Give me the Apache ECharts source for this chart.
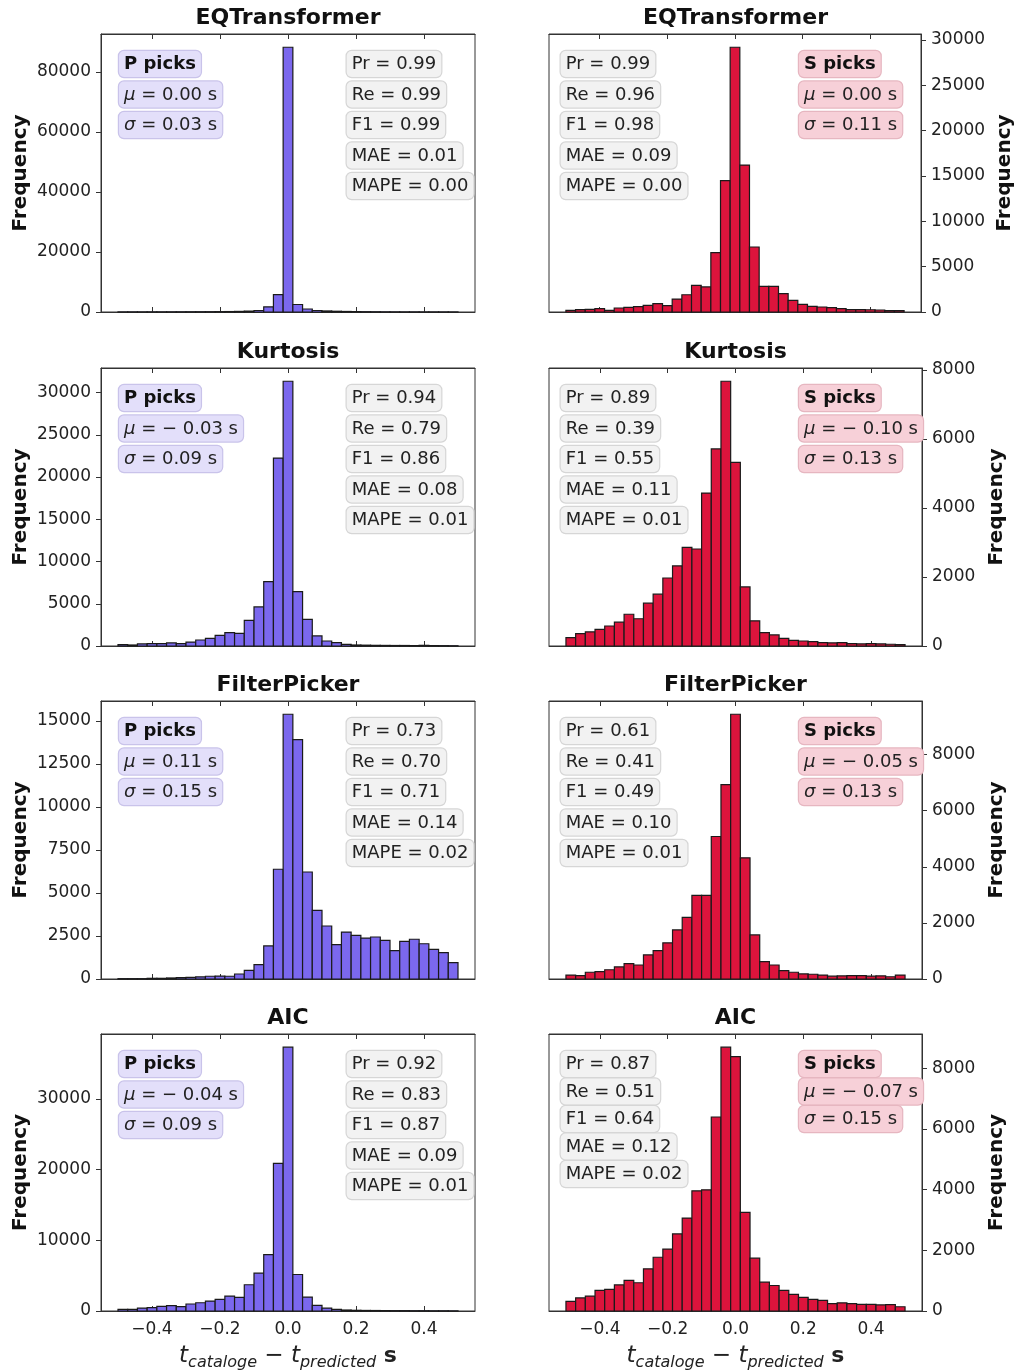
<!DOCTYPE html>
<html><head><meta charset="utf-8">
<script src="https://cdn.jsdelivr.net/npm/echarts@6/dist/echarts.min.js"></script>
<style>html,body{margin:0;padding:0;background:#fff}#c{width:1016px;height:1372px}</style>
</head><body><div id="c"></div>
<script>
// ---------- DATA ----------
const titles = ['EQTransformer','EQTransformer','Kurtosis','Kurtosis','FilterPicker','FilterPicker','AIC','AIC'];
const phases = ['P','S','P','S','P','S','P','S'];
// histogram bins: 35 bins from -0.5 s to 0.5 s
const BIN_START = -0.5, BIN_END = 0.5, BIN_COUNT = 35;

const eqtP  = [30,40,40,50,50,60,70,80,90,100,120,150,200,300,500,1700,5800,88200,2500,1000,500,350,250,180,130,100,80,60,50,40,40,30,30,25,20];
const eqtS  = [180,260,300,370,180,440,500,590,740,920,700,1430,1900,2940,2760,6540,14500,29200,16200,7170,2830,2830,2020,1290,850,625,550,480,370,260,260,250,220,150,150];
const kurtP = [160,120,240,280,280,360,280,470,710,910,1260,1580,1500,3040,4620,7630,22250,31340,6440,3160,1190,590,400,200,120,100,80,70,60,60,50,80,50,40,30];
const kurtS = [240,360,410,480,580,690,920,790,1240,1500,1970,2320,2860,2810,4430,5710,7670,5320,1710,730,390,320,220,165,145,125,100,90,100,70,60,70,60,50,40];
const fpP   = [20,20,20,40,40,60,80,100,120,160,170,160,290,500,830,1920,6380,15390,13910,6220,3990,3080,2000,2730,2540,2380,2440,2250,1650,2190,2310,2050,1720,1530,950];
const fpS   = [140,120,240,260,330,430,550,500,860,1010,1290,1750,2200,2980,2980,5080,6930,9440,4320,1570,620,500,300,240,180,170,140,100,110,120,120,100,110,80,140];
const aicP  = [230,230,420,470,660,750,610,990,1170,1410,1640,2110,1920,3710,5350,7980,20890,37320,5160,1970,800,420,230,140,100,80,70,60,50,50,40,40,30,30,20];
const aicS  = [320,430,490,680,710,860,1010,930,1390,1770,2040,2540,3060,3960,3990,6390,8690,8380,3250,1740,950,840,680,550,450,380,350,240,270,240,220,220,200,210,140];

const xTicks = [-0.4,-0.2,0,0.2,0.4];
const yTicksEqtP  = [0,20000,40000,60000,80000];
const yTicksEqtS  = [0,5000,10000,15000,20000,25000,30000];
const yTicksKurtP = [0,5000,10000,15000,20000,25000,30000];
const yTicksKurtS = [0,2000,4000,6000,8000];
const yTicksFpP   = [0,2500,5000,7500,10000,12500,15000];
const yTicksFpS   = [0,2000,4000,6000,8000];
const yTicksAicP  = [0,10000,20000,30000];
const yTicksAicS  = [0,2000,4000,6000,8000];

const pickMu    = ['0.00','0.00','−0.03','−0.10','0.11','−0.05','−0.04','−0.07'];
const pickSigma = ['0.03','0.11','0.09','0.13','0.15','0.13','0.09','0.15'];
const metricPr   = ['0.99','0.99','0.94','0.89','0.73','0.61','0.92','0.87'];
const metricRe   = ['0.99','0.96','0.79','0.39','0.70','0.41','0.83','0.51'];
const metricF1   = ['0.99','0.98','0.86','0.55','0.71','0.49','0.87','0.64'];
const metricMAE  = ['0.01','0.09','0.08','0.11','0.14','0.10','0.09','0.12'];
const metricMAPE = ['0.00','0.00','0.01','0.01','0.02','0.01','0.01','0.02'];

const seriesData = [eqtP, eqtS, kurtP, kurtS, fpP, fpS, aicP, aicS];
const yTickSets = [yTicksEqtP, yTicksEqtS, yTicksKurtP, yTicksKurtS, yTicksFpP, yTicksFpS, yTicksAicP, yTicksAicS];

// ---------- STYLE / LAYOUT ----------
const FONT = 'DejaVu Sans';
const ROW_TOP = [34, 368, 701, 1034];
const PLOT_H = 278;
const COL_LEFT = [101, 549];
const COL_W = [374, 373];
const FILL = {P: '#7B68EE', S: '#DC143C'};
const BOX_BG = {P: '#E3DFFA', S: '#F7D0D8', M: '#F2F2F2'};
const BOX_BD = {P: '#C9C3EA', S: '#E6B6C0', M: '#D6D6D6'};
const AX = '#333';
const TXT = '#222';

function binEdge(k) { return BIN_START + (BIN_END - BIN_START) * k / BIN_COUNT; }
function fmtX(v) {
  if (Math.abs(v) < 1e-9) return '0.0';
  return (v < 0 ? '−' : '') + Math.abs(v).toFixed(1);
}
function fmtY(v) { return String(Math.round(v)); }
function muText(m) {
  return m.charAt(0) === '−' ? '{i|μ} = − ' + m.slice(1) + ' s' : '{i|μ} = ' + m + ' s';
}

const option = {
  animation: false,
  backgroundColor: '#fff',
  grid: [], xAxis: [], yAxis: [], series: [], graphic: []
};

function box(x, y, text, kind, bold) {
  return {
    type: 'text', x: x, y: y, z: 50,
    style: {
      text: text, fontFamily: FONT, fontSize: 18, fontWeight: bold ? 'bold' : 'normal',
      fill: bold ? '#111' : TXT,
      backgroundColor: BOX_BG[kind], borderColor: BOX_BD[kind], borderWidth: 1.2, borderRadius: 5,
      padding: [4, 5, 3, 5], lineHeight: 19, align: 'left', verticalAlign: 'top',
      rich: { i: { fontFamily: FONT, fontStyle: 'italic', fontSize: 18, fill: TXT } }
    }
  };
}

const xName = '{t|t}{sub|cataloge}{op| − }{t|t}{sub|predicted}{b| s}';

for (let i = 0; i < 8; i++) {
  const row = i >> 1, col = i & 1;
  const left = COL_LEFT[col], top = ROW_TOP[row], width = COL_W[col];
  const data = seriesData[i];
  const ph = phases[i];
  const wideLabels = String(yTickSets[i][yTickSets[i].length - 1]).length >= 5;
  option.grid.push({ left: left, top: top, width: width, height: PLOT_H, show: true,
    borderColor: AX, borderWidth: 1, backgroundColor: 'transparent' });

  option.xAxis.push({
    gridIndex: i, type: 'value', min: -0.55, max: 0.55, position: 'bottom',
    axisLine: { show: true, onZero: false, lineStyle: { color: AX, width: 1 } },
    axisTick: { show: true, inside: true, length: 5, lineStyle: { color: AX }, customValues: xTicks },
    axisLabel: { show: row === 3, customValues: xTicks, formatter: fmtX, fontFamily: FONT, fontSize: 17, color: TXT, margin: 10 },
    splitLine: { show: false },
    name: row === 3 ? xName : '', nameLocation: 'middle', nameGap: 30, nameMoveOverlap: false,
    nameTextStyle: { rich: {
      t: { fontFamily: FONT, fontStyle: 'italic', fontSize: 23, lineHeight: 30, color: TXT },
      sub: { fontFamily: FONT, fontStyle: 'italic', fontSize: 16, lineHeight: 16, verticalAlign: 'bottom', color: TXT },
      op: { fontFamily: FONT, fontSize: 23, lineHeight: 30, color: TXT },
      b: { fontFamily: FONT, fontWeight: 'bold', fontSize: 22, lineHeight: 30, color: TXT }
    } }
  });
  option.xAxis.push({
    gridIndex: i, type: 'value', min: -0.55, max: 0.55, position: 'top',
    axisLine: { show: true, onZero: false, lineStyle: { color: AX, width: 1 } },
    axisTick: { show: true, inside: true, length: 5, lineStyle: { color: AX }, customValues: xTicks },
    axisLabel: { show: false }, splitLine: { show: false }
  });
  option.yAxis.push({
    gridIndex: i, type: 'value', min: 0, max: Math.max.apply(null, data) * 1.05,
    position: col ? 'right' : 'left',
    axisLine: { show: true, onZero: false, lineStyle: { color: AX, width: 1 } },
    axisTick: { show: true, inside: false, length: 5, lineStyle: { color: AX }, customValues: yTickSets[i] },
    axisLabel: { customValues: yTickSets[i], formatter: fmtY, fontFamily: FONT, fontSize: 17, color: TXT, margin: 10 },
    splitLine: { show: false },
    name: 'Frequency', nameLocation: 'middle', nameRotate: 90,
    nameGap: col ? (wideLabels ? 74 : 65) : 70, nameMoveOverlap: false,
    nameTextStyle: { fontFamily: FONT, fontSize: 20, fontWeight: 'bold', color: '#111' }
  });
  option.series.push({
    type: 'custom', xAxisIndex: 2 * i, yAxisIndex: i,
    encode: { x: [0, 1], y: 2 },
    data: data.map((v, k) => [binEdge(k), binEdge(k + 1), v]),
    renderItem: (params, api) => {
      const p0 = api.coord([api.value(0), api.value(2)]);
      const p1 = api.coord([api.value(1), 0]);
      return { type: 'rect',
        shape: { x: p0[0], y: p0[1], width: p1[0] - p0[0], height: p1[1] - p0[1] },
        style: { fill: FILL[ph], stroke: '#1a1a1a', lineWidth: 1.2 } };
    }
  });

  // panel title
  option.graphic.push({ type: 'text', x: left + width / 2, y: top - 16, z: 50,
    style: { text: titles[i], fontFamily: FONT, fontSize: 22, fontWeight: 'bold', fill: '#111', align: 'center', verticalAlign: 'middle' } });

  // boxes
  const pitch = i === 7 ? 27.5 : 30.5;
  const y0 = top + 17;
  const gx = col ? left + 250 : left + 18;
  const mx = col ? left + 11.7 : left + 245.7;
  option.graphic.push(box(gx, y0, ph + ' picks', ph, true));
  option.graphic.push(box(gx, y0 + pitch, muText(pickMu[i]), ph, false));
  option.graphic.push(box(gx, y0 + 2 * pitch, '{i|σ} = ' + pickSigma[i] + ' s', ph, false));
  const mlines = ['Pr = ' + metricPr[i], 'Re = ' + metricRe[i], 'F1 = ' + metricF1[i], 'MAE = ' + metricMAE[i], 'MAPE = ' + metricMAPE[i]];
  mlines.forEach((t, k) => option.graphic.push(box(mx, y0 + k * pitch, t, 'M', false)));
}

const chart = echarts.init(document.getElementById('c'), null, { renderer: 'canvas' });
chart.setOption(option);
</script></body></html>
